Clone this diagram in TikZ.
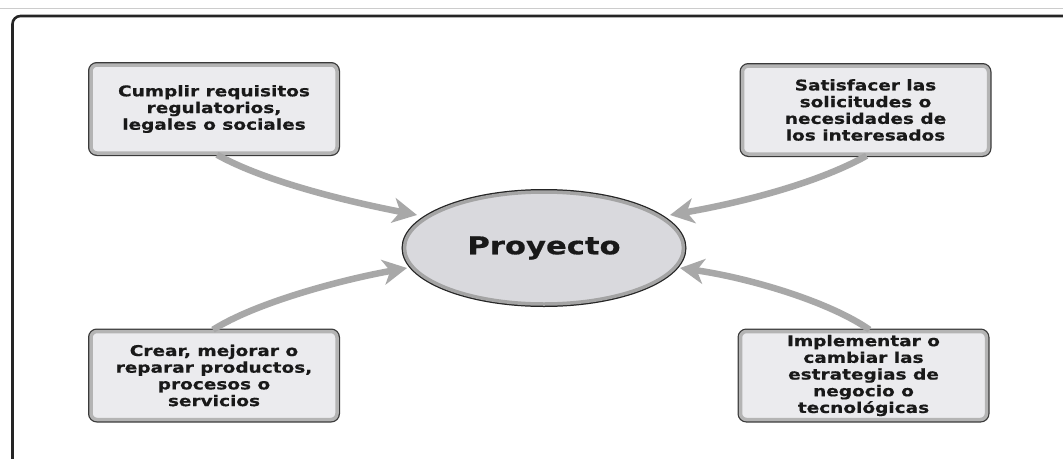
\documentclass[tikz,border=0pt]{standalone}
\usepackage{fontspec}
\setmainfont{DejaVu Sans}
\newfontfamily\heavyfont{DejaVu Sans}[FakeStretch=1.25, BoldFeatures={FakeBold=0.6}]
\usetikzlibrary{arrows.meta,shapes.geometric}
\definecolor{boxfill}{HTML}{EBEBEE}
\definecolor{boxband}{HTML}{B4B4B4}
\definecolor{boxedge}{HTML}{3A3A3A}
\definecolor{ellfill}{HTML}{D9D9DD}
\definecolor{ellband}{HTML}{A4A4A4}
\definecolor{arrowgray}{HTML}{A8A8A8}
\definecolor{framecol}{HTML}{252525}
\tikzset{
  boxnode/.style={rectangle, rounded corners=6pt, fill=boxfill, draw=boxband, line width=3.5pt,
    preaction={draw=boxedge, line width=6pt},
    minimum width=246pt, minimum height=88pt, inner sep=0pt, align=center,
    font=\heavyfont\fontsize{14.8}{16.7}\selectfont\bfseries, text=black!90},
  projnode/.style={ellipse, fill=ellfill, draw=ellband, line width=3.5pt,
    preaction={draw=framecol, line width=6pt},
    minimum width=279pt, minimum height=112pt, inner sep=0pt,
    font=\heavyfont\fontsize{24.5}{30}\selectfont\bfseries, text=black!90},
  flow/.style={draw=arrowgray, line width=6.5pt,
    -{Stealth[length=24pt,width=25pt,inset=7pt]}}
}
\begin{document}
\begin{tikzpicture}[x=1pt,y=-1pt]
\useasboundingbox (0,0) rectangle (1063,458);
\clip (0,0) rectangle (1063,458);
\fill[white] (0,0) rectangle (1063,458);
\draw[black!20, line width=1pt] (0,8.5) -- (1063,8.5);
\draw[framecol, line width=2.6pt, rounded corners=8pt] (12.5,16) rectangle (1090,490);

\node[projnode] (pr) at (544,248) {Proyecto};
\coordinate (tlend) at (417,215);
\coordinate (trend) at (670,215);
\coordinate (blend) at (407,268);
\coordinate (brend) at (680,268);

\node[boxnode] (tl) at (214,109) {Cumplir requisitos\\regulatorios,\\legales o sociales};
\node[boxnode] (tr) at (865.5,110) {Satisfacer las\\solicitudes o\\necesidades de\\los interesados};
\node[boxnode] (bl) at (214,375.5) {Crear, mejorar o\\reparar productos,\\procesos o\\servicios};
\node[boxnode] (br) at (863.5,375.5) {Implementar o\\cambiar las\\estrategias de\\negocio o\\tecnológicas};

\draw[flow] ([xshift=3pt]tl.south) .. controls (262,180) and (340,200) .. (tlend);
\draw[flow] ([xshift=1pt]tr.south) .. controls (820,182) and (745,202) .. (trend);
\draw[flow] ([xshift=-1pt]bl.north) .. controls (255,303) and (340,280) .. (blend);
\draw[flow] ([xshift=6pt]br.north) .. controls (830,302) and (750,278) .. (brend);
\end{tikzpicture}
\end{document}
